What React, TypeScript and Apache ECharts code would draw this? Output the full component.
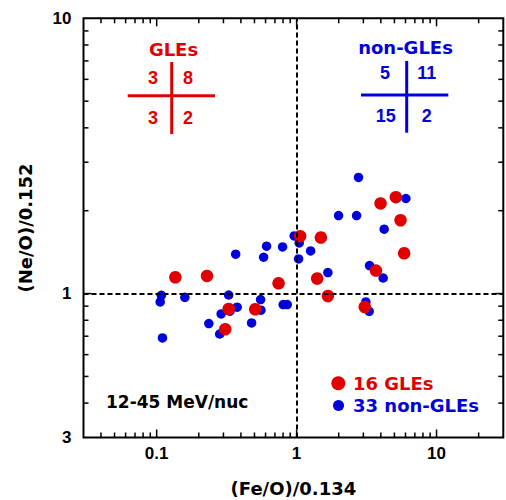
import React, { useEffect, useRef } from "react";
import * as echarts from "echarts";

const X_MIN = 0.03;
const X_MAX = 30;
const Y_MIN = 0.3;
const Y_MAX = 10;

const xTickValues = [0.1, 1, 10];
const xTickLabels = ["0.1", "1", "10"];
const yTickValues = [0.3, 1, 10];
const yTickLabels = ["3", "1", "10"];

const xMajorTicks = [0.1, 1, 10];
const xMinorTicks = [0.04, 0.05, 0.06, 0.07, 0.08, 0.09, 0.2, 0.3, 0.4, 0.5, 0.6, 0.7, 0.8, 0.9, 2, 3, 4, 5, 6, 7, 8, 9, 20];
const yMajorTicks = [1];
const yMinorTicks = [0.4, 0.5, 0.6, 0.7, 0.8, 0.9, 2, 3, 4, 5, 6, 7, 8, 9];

// 16 GLEs
const glesX = [0.136, 0.229, 0.743, 0.327, 0.506, 0.309, 1.061, 5.12, 3.98, 5.53, 1.491, 5.87, 1.403, 3.69, 1.673, 3.07];
const glesY = [1.146, 1.159, 1.09, 0.879, 0.877, 0.742, 1.616, 2.24, 2.125, 1.847, 1.598, 1.401, 1.134, 1.212, 0.98, 0.894];

// 33 non-GLEs
const nonGlesX = [0.961, 1.044, 0.61, 0.794, 1.259, 0.367, 0.581, 1.033, 2.77, 6.04, 1.995, 2.683, 4.225, 1.673, 3.322, 4.155, 3.126, 3.301, 0.108, 0.106, 0.159, 0.327, 0.553, 0.376, 0.289, 0.556, 0.802, 0.857, 0.236, 0.477, 0.282, 0.11, 0.334];
const nonGlesY = [1.62, 1.528, 1.486, 1.477, 1.429, 1.39, 1.355, 1.336, 2.642, 2.215, 1.921, 1.921, 1.713, 1.192, 1.264, 1.139, 0.932, 0.862, 0.986, 0.932, 0.969, 0.988, 0.951, 0.892, 0.843, 0.87, 0.912, 0.912, 0.778, 0.782, 0.713, 0.69, 0.863];

const glesQuadrants = ["3", "8", "3", "2"];
const nonGlesQuadrants = ["5", "11", "15", "2"];

const RED = "#e00000";
const BLUE = "#0000dc";
const WORD_FONT = "DejaVu Sans";
const NUM_FONT = "Liberation Sans";

function lookupLabel(values: number[], labels: string[], v: number): string {
  for (let i = 0; i < values.length; i++) {
    if (Math.abs(v - values[i]) / values[i] < 1e-4) return labels[i];
  }
  return "";
}

function textEl(text: string, x: number, y: number, color: string, size: number, family: string, align = "center") {
  return {
    type: "text",
    x,
    y,
    silent: true,
    style: {
      text,
      fill: color,
      fontSize: size,
      fontWeight: "bold",
      fontFamily: family,
      align,
      verticalAlign: "middle",
      textAlign: align,
      textVerticalAlign: "middle",
    },
  };
}

function lineEl(x1: number, y1: number, x2: number, y2: number, color: string) {
  return {
    type: "line",
    silent: true,
    shape: { x1, y1, x2, y2 },
    style: { stroke: color, lineWidth: 3 },
  };
}

export default function App() {
  const ref = useRef<HTMLDivElement>(null);

  useEffect(() => {
    if (!ref.current) return;
    const chart = echarts.init(ref.current, null, { renderer: "svg" });

    const tickData: number[][] = [];
    xMajorTicks.forEach((v) => tickData.push([v, Y_MIN, 0, 1]));
    xMinorTicks.forEach((v) => tickData.push([v, Y_MIN, 0, 0]));
    yMajorTicks.forEach((v) => tickData.push([X_MIN, v, 1, 1]));
    yMinorTicks.forEach((v) => tickData.push([X_MIN, v, 1, 0]));

    const option: any = {
      animation: false,
      backgroundColor: "#ffffff",
      grid: {
        left: 83.5,
        top: 18.3,
        right: 2.7,
        bottom: 62.5,
        show: true,
        borderColor: "#000",
        borderWidth: 2,
        backgroundColor: "transparent",
        containLabel: false,
        outerBoundsMode: "none",
      },
      xAxis: {
        type: "log",
        logBase: 10,
        min: X_MIN,
        max: X_MAX,
        axisLine: { show: false },
        axisTick: { show: false },
        splitLine: { show: false },
        minorTick: { show: false },
        axisLabel: {
          show: true,
          margin: 7,
          color: "#000",
          fontSize: 17,
          fontWeight: "bold",
          fontFamily: NUM_FONT,
          showMinLabel: true,
          showMaxLabel: true,
          formatter: (v: number) => lookupLabel(xTickValues, xTickLabels, v),
        },
        name: "(Fe/O)/0.134",
        nameLocation: "middle",
        nameGap: 42,
        nameTextStyle: { color: "#000", fontSize: 18, fontWeight: "bold", fontFamily: WORD_FONT },
      },
      yAxis: {
        type: "log",
        logBase: 10,
        min: Y_MIN,
        max: Y_MAX,
        axisLine: { show: false },
        axisTick: { show: false },
        splitLine: { show: false },
        minorTick: { show: false },
        axisLabel: {
          show: true,
          margin: 12,
          color: "#000",
          fontSize: 17,
          fontWeight: "bold",
          fontFamily: NUM_FONT,
          padding: [0, 0, 6, 0],
          showMinLabel: true,
          showMaxLabel: true,
          formatter: (v: number) => lookupLabel(yTickValues, yTickLabels, v),
        },
        name: "(Ne/O)/0.152",
        nameLocation: "middle",
        nameRotate: 90,
        nameGap: 49,
        nameTextStyle: { color: "#000", fontSize: 18, fontWeight: "bold", fontFamily: WORD_FONT },
      },
      series: [
        {
          type: "custom",
          silent: true,
          z: 6,
          data: tickData,
          renderItem: (params: any, api: any) => {
            const kind = api.value(2);
            const major = api.value(3);
            const len = major ? 8 : 5;
            const st = { stroke: "#000", lineWidth: 1.5 };
            if (kind === 0) {
              const xv = api.value(0);
              const b = api.coord([xv, Y_MIN]);
              const t = api.coord([xv, Y_MAX]);
              return {
                type: "group",
                children: [
                  { type: "line", shape: { x1: b[0], y1: b[1], x2: b[0], y2: b[1] - len }, style: st },
                  { type: "line", shape: { x1: t[0], y1: t[1], x2: t[0], y2: t[1] + len }, style: st },
                ],
              };
            }
            const yv = api.value(1);
            const l = api.coord([X_MIN, yv]);
            const r = api.coord([X_MAX, yv]);
            return {
              type: "group",
              children: [
                { type: "line", shape: { x1: l[0], y1: l[1], x2: l[0] + len, y2: l[1] }, style: st },
                { type: "line", shape: { x1: r[0], y1: r[1], x2: r[0] - len, y2: r[1] }, style: st },
              ],
            };
          },
        },
        {
          name: "33 non-GLEs",
          type: "scatter",
          z: 2,
          symbol: "circle",
          symbolSize: 9.5,
          itemStyle: { color: BLUE, opacity: 1 },
          data: nonGlesX.map((x, i) => [x, nonGlesY[i]]),
          markLine: {
            silent: true,
            symbol: ["none", "none"],
            label: { show: false },
            lineStyle: { type: [5, 3], color: "#000", width: 2 },
            emphasis: { disabled: true },
            data: [{ xAxis: 1 }, { yAxis: 1 }],
          },
        },
        {
          name: "16 GLEs",
          type: "scatter",
          z: 3,
          symbol: "circle",
          symbolSize: 12.5,
          itemStyle: { color: RED, opacity: 1 },
          data: glesX.map((x, i) => [x, glesY[i]]),
        },
      ],
      graphic: [
        // GLEs quadrant counts
        textEl("GLEs", 173.5, 49, RED, 18, WORD_FONT),
        lineEl(127.7, 95.7, 215, 95.7, RED),
        lineEl(171.7, 62, 171.7, 134, RED),
        textEl(glesQuadrants[0], 153, 78, RED, 18, NUM_FONT),
        textEl(glesQuadrants[1], 188, 78, RED, 18, NUM_FONT),
        textEl(glesQuadrants[2], 153, 118, RED, 18, NUM_FONT),
        textEl(glesQuadrants[3], 188, 118, RED, 18, NUM_FONT),
        // non-GLEs quadrant counts
        textEl("non-GLEs", 405.5, 47, BLUE, 18, WORD_FONT),
        lineEl(361, 95, 448.3, 95, BLUE),
        lineEl(406.7, 61, 406.7, 132.7, BLUE),
        textEl(nonGlesQuadrants[0], 385, 73, BLUE, 18, NUM_FONT),
        textEl(nonGlesQuadrants[1], 426.7, 73, BLUE, 18, NUM_FONT),
        textEl(nonGlesQuadrants[2], 385.7, 115.5, BLUE, 18, NUM_FONT),
        textEl(nonGlesQuadrants[3], 426.7, 115.5, BLUE, 18, NUM_FONT),
        // energy range
        textEl("12-45 MeV/nuc", 106, 402, "#000", 17, WORD_FONT, "left"),
        // legend
        { type: "circle", silent: true, shape: { cx: 338.3, cy: 383.3, r: 7 }, style: { fill: RED } },
        { type: "circle", silent: true, shape: { cx: 338.5, cy: 405.5, r: 5.5 }, style: { fill: BLUE } },
        textEl("16 GLEs", 353, 383.5, RED, 18, WORD_FONT, "left"),
        textEl("33 non-GLEs", 353, 405.5, BLUE, 18, WORD_FONT, "left"),
      ],
    };

    chart.setOption(option);
    return () => {
      chart.dispose();
    };
  }, []);

  return (
    <div
      ref={ref}
      style={{ position: "fixed", left: 0, top: 0, width: 506, height: 500, background: "#fff" }}
    />
  );
}
